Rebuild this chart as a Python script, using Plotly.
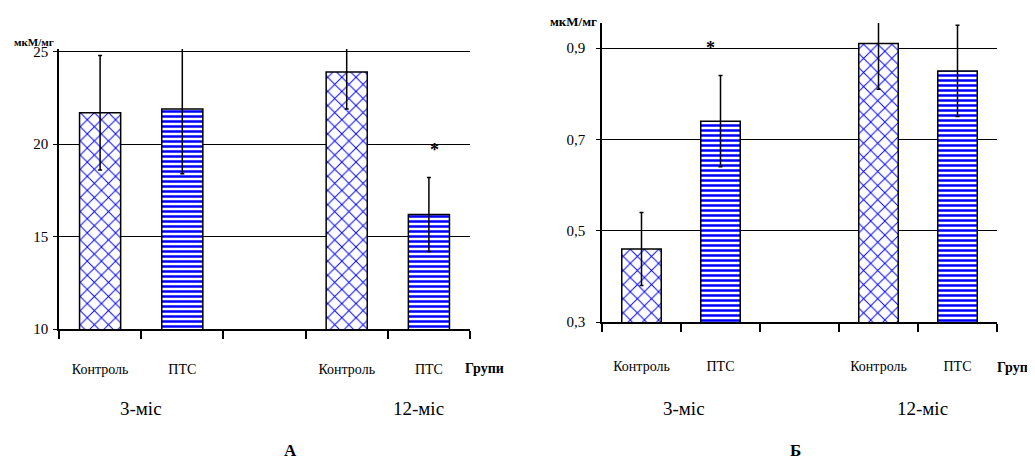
import plotly.graph_objects as go

# ---- data ----
groups = ["Контроль", "ПТС", "Контроль", "ПТС"]
ages = ["3-міс", "12-міс"]

a_control = [21.7, 23.9]
a_control_err = [3.1, 2.0]
a_pts = [21.9, 16.2]
a_pts_err = [3.5, 2.0]

b_control = [0.46, 0.91]
b_control_err = [0.08, 0.10]
b_pts = [0.74, 0.85]
b_pts_err = [0.10, 0.10]

a_yticks = [10, 15, 20, 25]
b_yticks = [0.3, 0.5, 0.7, 0.9]
b_yticktext = ["0,3", "0,5", "0,7", "0,9"]

unit = "мкМ/мг"
xlabel = "Групи"

# ---- layout helpers ----
W, H, OFF = 1035, 459, 8   # page body margin offsets the figure by 8 px


def px(x):
    return (x - OFF) / W


def py(y):
    return 1 - (y - OFF) / H


ctrl_x = [1, 4]
pts_x = [2, 5]
FONT = "Liberation Serif, Times New Roman, serif"
BLUE = "#0000ff"

fig = go.Figure()


def add_bars(xa, ya, ctrl, ctrl_err, pts, pts_err):
    fig.add_trace(go.Bar(
        x=ctrl_x, y=ctrl, width=0.5, xaxis=xa, yaxis=ya,
        marker=dict(color="white", line=dict(color="black", width=1.5),
                    pattern=dict(shape="x", fgcolor=BLUE, bgcolor="white",
                                 size=10, solidity=0.18, fillmode="replace")),
        error_y=dict(type="data", array=ctrl_err, visible=True,
                     color="black", thickness=1.5, width=2),
        showlegend=False))
    fig.add_trace(go.Bar(
        x=pts_x, y=pts, width=0.5, xaxis=xa, yaxis=ya,
        marker=dict(color="white", line=dict(color="black", width=1.5),
                    pattern=dict(shape="-", fgcolor=BLUE, bgcolor="white",
                                 size=5, solidity=0.5, fillmode="replace")),
        error_y=dict(type="data", array=pts_err, visible=True,
                     color="black", thickness=1.5, width=2),
        showlegend=False))


add_bars("x", "y", a_control, a_control_err, a_pts, a_pts_err)
add_bars("x2", "y2", b_control, b_control_err, b_pts, b_pts_err)

xcommon = dict(range=[0.5, 5.5], tickvals=ctrl_x + pts_x,
               ticktext=[groups[0], groups[2], groups[1], groups[3]],
               ticks="", showline=True, linecolor="black", linewidth=1.5,
               showgrid=False, zeroline=False,
               automargin=False,
               tickfont=dict(family=FONT, size=14, color="black"),
               minor=dict(tickmode="array", tickvals=[0.5, 1.5, 2.5, 3.5, 4.5, 5.5],
                          ticks="outside", ticklen=8, tickwidth=1.5,
                          tickcolor="black", showgrid=False))
ycommon = dict(showline=True, linecolor="black", linewidth=1.5,
               ticks="outside", ticklen=4, tickwidth=1.2, tickcolor="black",
               showgrid=True, gridcolor="black", gridwidth=1.2,
               zeroline=False, automargin=False,
               tickfont=dict(family=FONT, size=15, color="black"))

fig.update_layout(
    width=W, height=H,
    margin=dict(l=0, r=0, t=0, b=0, pad=0),
    paper_bgcolor="white", plot_bgcolor="white",
    barmode="overlay",
    font=dict(family=FONT, color="black"),
    xaxis=dict(domain=[px(59), px(470)], anchor="y", ticklabelstandoff=26, **xcommon),
    yaxis=dict(domain=[py(329), py(49)], anchor="x", range=[10, 25.15],
               tickvals=a_yticks, ticklabelstandoff=2, **ycommon),
    xaxis2=dict(domain=[px(602), px(997)], anchor="y2", ticklabelstandoff=30, **xcommon),
    yaxis2=dict(domain=[py(322), py(23)], anchor="x2", range=[0.3, 0.955],
                tickvals=b_yticks, ticktext=b_yticktext, ticklabelstandoff=8, **ycommon),
)

ann = []
# significance stars
ann.append(dict(x=5.07, y=19.7, xref="x", yref="y", text="<b>*</b>", showarrow=False,
                xanchor="center", yanchor="middle", font=dict(size=18, family=FONT)))
ann.append(dict(x=1.87, y=0.9, xref="x2", yref="y2", text="<b>*</b>", showarrow=False,
                xanchor="center", yanchor="middle", font=dict(size=18, family=FONT)))
# age labels
for xa, xs in (("x", [1.5, 4.87]), ("x2", [1.54, 4.56])):
    for xv, t in zip(xs, ages):
        ann.append(dict(x=xv, y=py(408), xref=xa, yref="paper", text=t,
                        showarrow=False, xanchor="center", yanchor="middle",
                        font=dict(size=19, family=FONT)))
# unit labels
ann.append(dict(x=px(12), y=py(42), xref="paper", yref="paper", text="<b>" + unit + "</b>",
                showarrow=False, xanchor="left", yanchor="middle",
                font=dict(size=11, family=FONT)))
ann.append(dict(x=px(548), y=py(21), xref="paper", yref="paper", text="<b>" + unit + "</b>",
                showarrow=False, xanchor="left", yanchor="middle",
                font=dict(size=13, family=FONT)))
# x axis name
ann.append(dict(x=px(463), y=py(368), xref="paper", yref="paper", text="<b>" + xlabel + "</b>",
                showarrow=False, xanchor="left", yanchor="middle",
                font=dict(size=14, family=FONT)))
ann.append(dict(x=px(995), y=py(367), xref="paper", yref="paper", text="<b>" + xlabel + "</b>",
                showarrow=False, xanchor="left", yanchor="middle",
                font=dict(size=14, family=FONT)))
# panel letters
ann.append(dict(x=px(290), y=py(450), xref="paper", yref="paper", text="<b>А</b>",
                showarrow=False, xanchor="center", yanchor="middle",
                font=dict(size=17, family=FONT)))
ann.append(dict(x=px(795), y=py(450), xref="paper", yref="paper", text="<b>Б</b>",
                showarrow=False, xanchor="center", yanchor="middle",
                font=dict(size=17, family=FONT)))
fig.update_layout(annotations=ann)

fig.write_html("out.html")
